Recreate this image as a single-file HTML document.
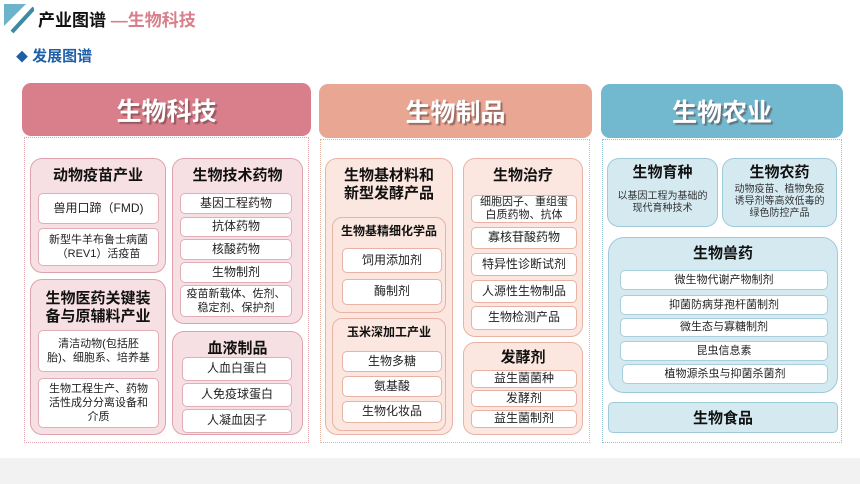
<!DOCTYPE html>
<html><head><meta charset="utf-8"><style>
*{margin:0;padding:0;box-sizing:border-box}
body{width:860px;height:484px;background:#fff;position:relative;overflow:hidden;font-family:"Liberation Sans","Noto Sans CJK SC",sans-serif}
.a{position:absolute}
.hd{position:absolute;border-radius:9px;color:#fff;font-weight:bold;font-size:25px;display:flex;align-items:center;justify-content:center;text-shadow:2px 2px 1px rgba(90,60,60,.55)}
.dc{position:absolute;border:1px dotted}
.bx{position:absolute;border-radius:12px;border:1.5px solid}
.t{position:absolute;left:0;right:0;text-align:center;font-weight:bold;color:#111;line-height:1.2}
.it{position:absolute;background:#fff;border-radius:5px;border:1.5px solid;display:flex;align-items:center;justify-content:center;text-align:center;font-size:12px;color:#222;line-height:1.3;padding:0 6px}
.p{background:#f7e0e4;border-color:#dfa2ad}.p .it{border-color:#e2adb7}
.s{background:#fbe7e0;border-color:#e8b3a2}
.b{background:#d5e9f1;border-color:#9fcadb}
</style></head><body>
<svg class="a" style="left:4px;top:4px" width="30" height="30"><polygon points="0,0 22,0 0,22" fill="#6db3cb"/><line x1="8" y1="28" x2="30" y2="4" stroke="#3d8aa3" stroke-width="4"/></svg>
<div class="a" style="left:38px;top:6px;font-size:17px;font-weight:bold;color:#111">产业图谱 <span style="color:#d97f8c">—生物科技</span></div>
<div class="a" style="left:16px;top:45px;font-size:15px;font-weight:bold;color:#1f5fa8"><span style="font-size:12px">◆</span> 发展图谱</div>
<div class="a" style="left:0;top:458px;width:860px;height:26px;background:#f2f2f2"></div>

<div class="hd" style="left:22px;top:83px;width:289px;height:53px;background:#d97f8c">生物科技</div>
<div class="hd" style="left:319px;top:84px;width:273px;height:54px;background:#e8a693">生物制品</div>
<div class="hd" style="left:601px;top:84px;width:242px;height:54px;background:#72b8cf">生物农业</div>
<div class="dc" style="left:24px;top:137px;width:285px;height:306px;border-color:#e2a6b0"></div>
<div class="dc" style="left:320px;top:139px;width:270px;height:304px;border-color:#e8b3a2"></div>
<div class="dc" style="left:602px;top:139px;width:240px;height:304px;border-color:#8fbfd0"></div>

<!-- left -->
<div class="bx p" style="left:30px;top:158px;width:136px;height:115px">
<div class="t" style="top:8px;font-size:15px">动物疫苗产业</div>
<div class="it" style="left:7px;top:34px;width:121px;height:31px">兽用口蹄（FMD)</div>
<div class="it" style="left:7px;top:69px;width:121px;height:38px;font-size:11px">新型牛羊布鲁士病菌（REV1）活疫苗</div></div>
<div class="bx p" style="left:30px;top:279px;width:136px;height:156px">
<div class="t" style="top:10px;font-size:15px">生物医药关键装<br>备与原辅料产业</div>
<div class="it" style="left:7px;top:50px;width:121px;height:42px;font-size:11px;padding:0 8px">清洁动物(包括胚胎)、细胞系、培养基</div>
<div class="it" style="left:7px;top:98px;width:121px;height:50px;font-size:11px;padding:0 10px">生物工程生产、药物活性成分分离设备和介质</div></div>
<div class="bx p" style="left:172px;top:158px;width:131px;height:166px">
<div class="t" style="top:8px;font-size:15px">生物技术药物</div>
<div class="it" style="left:7px;top:34px;width:112px;height:21px">基因工程药物</div>
<div class="it" style="left:7px;top:58px;width:112px;height:20px">抗体药物</div>
<div class="it" style="left:7px;top:80px;width:112px;height:21px">核酸药物</div>
<div class="it" style="left:7px;top:103px;width:112px;height:21px">生物制剂</div>
<div class="it" style="left:7px;top:126px;width:112px;height:32px;font-size:11px;padding:0 4px">疫苗新载体、佐剂、稳定剂、保护剂</div></div>
<div class="bx p" style="left:172px;top:331px;width:131px;height:104px">
<div class="t" style="top:8px;font-size:15px">血液制品</div>
<div class="it" style="left:9px;top:25px;width:110px;height:24px">人血白蛋白</div>
<div class="it" style="left:9px;top:51px;width:110px;height:24px">人免疫球蛋白</div>
<div class="it" style="left:9px;top:77px;width:110px;height:24px">人凝血因子</div></div>

<!-- middle -->
<div class="bx s" style="left:325px;top:158px;width:128px;height:277px">
<div class="t" style="top:8px;font-size:15px">生物基材料和<br>新型发酵产品</div>
<div class="bx s" style="left:6px;top:58px;width:114px;height:96px;border-radius:10px">
<div class="t" style="top:6px;font-size:12px">生物基精细化学品</div>
<div class="it" style="left:9px;top:30px;width:100px;height:25px;border-color:#e8b3a2">饲用添加剂</div>
<div class="it" style="left:9px;top:61px;width:100px;height:26px;border-color:#e8b3a2">酶制剂</div></div>
<div class="bx s" style="left:6px;top:159px;width:114px;height:113px;border-radius:10px">
<div class="t" style="top:6px;font-size:12px">玉米深加工产业</div>
<div class="it" style="left:9px;top:32px;width:100px;height:21px;border-color:#e8b3a2">生物多糖</div>
<div class="it" style="left:9px;top:57px;width:100px;height:21px;border-color:#e8b3a2">氨基酸</div>
<div class="it" style="left:9px;top:82px;width:100px;height:22px;border-color:#e8b3a2">生物化妆品</div></div></div>
<div class="bx s" style="left:463px;top:158px;width:120px;height:179px">
<div class="t" style="top:8px;font-size:15px">生物治疗</div>
<div class="it" style="left:7px;top:36px;width:106px;height:28px;font-size:11px;line-height:1.15;border-color:#e8b3a2;padding:0 4px">细胞因子、重组蛋白质药物、抗体</div>
<div class="it" style="left:7px;top:68px;width:106px;height:22px;border-color:#e8b3a2">寡核苷酸药物</div>
<div class="it" style="left:7px;top:94px;width:106px;height:23px;border-color:#e8b3a2">特异性诊断试剂</div>
<div class="it" style="left:7px;top:121px;width:106px;height:23px;border-color:#e8b3a2">人源性生物制品</div>
<div class="it" style="left:7px;top:147px;width:106px;height:24px;border-color:#e8b3a2">生物检测产品</div></div>
<div class="bx s" style="left:463px;top:342px;width:120px;height:93px">
<div class="t" style="top:6px;font-size:15px">发酵剂</div>
<div class="it" style="left:7px;top:27px;width:106px;height:18px;border-color:#e8b3a2">益生菌菌种</div>
<div class="it" style="left:7px;top:47px;width:106px;height:17px;border-color:#e8b3a2">发酵剂</div>
<div class="it" style="left:7px;top:67px;width:106px;height:18px;border-color:#e8b3a2">益生菌制剂</div></div>

<!-- right -->
<div class="bx b" style="left:607px;top:158px;width:111px;height:69px">
<div class="t" style="top:5px;font-size:15px">生物育种</div>
<div class="t" style="top:32px;font-size:10px;font-weight:normal;color:#333">以基因工程为基础的<br>现代育种技术</div></div>
<div class="bx b" style="left:722px;top:158px;width:115px;height:69px">
<div class="t" style="top:5px;font-size:15px">生物农药</div>
<div class="t" style="top:25px;font-size:10px;font-weight:normal;color:#333">动物疫苗、植物免疫<br>诱导剂等高效低毒的<br>绿色防控产品</div></div>
<div class="bx b" style="left:608px;top:237px;width:230px;height:156px;border-radius:16px">
<div class="t" style="top:7px;font-size:15px">生物兽药</div>
<div class="it" style="left:11px;top:32px;width:208px;height:20px;font-size:11px;border-color:#a9cfdd">微生物代谢产物制剂</div>
<div class="it" style="left:11px;top:57px;width:208px;height:20px;font-size:11px;border-color:#a9cfdd">抑菌防病芽孢杆菌制剂</div>
<div class="it" style="left:11px;top:80px;width:208px;height:19px;font-size:11px;border-color:#a9cfdd">微生态与寡糖制剂</div>
<div class="it" style="left:11px;top:103px;width:208px;height:20px;font-size:11px;border-color:#a9cfdd">昆虫信息素</div>
<div class="it" style="left:13px;top:126px;width:206px;height:20px;font-size:11px;border-color:#a9cfdd">植物源杀虫与抑菌杀菌剂</div></div>
<div class="bx b" style="left:608px;top:402px;width:230px;height:31px;border-radius:5px;display:flex;align-items:center;justify-content:center;font-weight:bold;font-size:15px;color:#111">生物食品</div>
</body></html>
